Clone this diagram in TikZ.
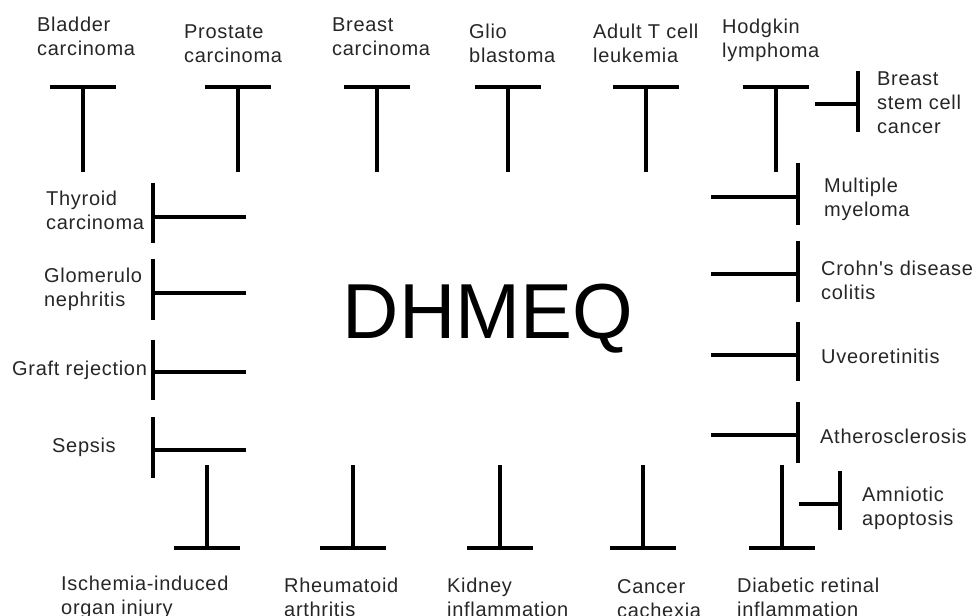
\documentclass[tikz,border=0pt]{standalone}
\usepackage{fontspec}
\setmainfont{Liberation Sans}
\newfontfamily\lblfont[LetterSpace=3.5]{Liberation Sans}
\definecolor{txt}{HTML}{262626}
\begin{document}
\begin{tikzpicture}[x=1pt,y=-1pt,
  lbl/.style={font=\lblfont\fontsize{20}{24}\selectfont, align=left, inner sep=0pt, anchor=base west, text=txt},
  bar/.style={line width=3.6pt, black}]
\useasboundingbox (0,0) rectangle (978,616);
\node[font=\fontsize{78}{78}\selectfont, inner sep=0pt, anchor=base, text=black] (dhmeq) at (488,338) {DHMEQ};

% top labels (anchor = baseline of last line)
\node[lbl] (bladder) at (37,55) {Bladder\\carcinoma};
\node[lbl] (prostate) at (184,62) {Prostate\\carcinoma};
\node[lbl] (breast) at (332,55) {Breast\\carcinoma};
\node[lbl] (glio) at (469,62) {Glio\\blastoma};
\node[lbl] (adult) at (593,62) {Adult T cell\\leukemia};
\node[lbl] (hodgkin) at (722,57) {Hodgkin\\lymphoma};
\node[lbl] (bscc) at (877,133) {Breast\\stem cell\\cancer};

% left labels
\node[lbl] (thyroid) at (46,229) {Thyroid\\carcinoma};
\node[lbl] (glom) at (44,306) {Glomerulo\\nephritis};
\node[lbl] (graft) at (12,375) {Graft rejection};
\node[lbl] (sepsis) at (52,452) {Sepsis};

% right labels
\node[lbl] (mm) at (824,216) {Multiple\\myeloma};
\node[lbl] (crohn) at (821,299) {Crohn's disease\\colitis};
\node[lbl] (uveo) at (821,363) {Uveoretinitis};
\node[lbl] (athero) at (820,443) {Atherosclerosis};
\node[lbl] (amnio) at (862,525) {Amniotic\\apoptosis};

% bottom labels
\node[lbl] (isch) at (61,614) {Ischemia-induced\\organ injury};
\node[lbl] (rheum) at (284,616) {Rheumatoid\\arthritis};
\node[lbl] (kidney) at (447,616) {Kidney\\inflammation};
\node[lbl] (cachexia) at (617,617) {Cancer\\cachexia};
\node[lbl] (diab) at (737,616) {Diabetic retinal\\inflammation};

% top T bars
\foreach \n/\x in {t1/83,t2/238,t3/377,t4/508,t5/646,t6/776}{
  \coordinate (\n a) at (\x,172);
  \coordinate (\n b) at (\x,87);
  \coordinate (\n l) at (\x-33,87);
  \coordinate (\n r) at (\x+33,87);
  \draw[bar] (\n a) -- (\n b);
  \draw[bar] (\n l) -- (\n r);
}
% breast stem cell
\coordinate (bs1) at (815,104); \coordinate (bs2) at (858,104);
\coordinate (bs3) at (858,71); \coordinate (bs4) at (858,132);
\draw[bar] (bs1) -- (bs2); \draw[bar] (bs3) -- (bs4);

% left bars
\foreach \n/\y/\t/\b in {l1/217/183/243, l2/293/259/320, l3/372/340/400, l4/450/417/478}{
  \coordinate (\n a) at (246,\y);
  \coordinate (\n b) at (153,\y);
  \coordinate (\n t) at (153,\t);
  \coordinate (\n u) at (153,\b);
  \draw[bar] (\n a) -- (\n b);
  \draw[bar] (\n t) -- (\n u);
}

% right bars
\foreach \n/\y/\t/\b in {r1/197/163/225, r2/274/241/302, r3/355/322/381, r4/435/402/463}{
  \coordinate (\n a) at (711,\y);
  \coordinate (\n b) at (798,\y);
  \coordinate (\n t) at (798,\t);
  \coordinate (\n u) at (798,\b);
  \draw[bar] (\n a) -- (\n b);
  \draw[bar] (\n t) -- (\n u);
}
% amniotic
\coordinate (am1) at (799,504); \coordinate (am2) at (840,504);
\coordinate (am3) at (840,471); \coordinate (am4) at (840,530);
\draw[bar] (am1) -- (am2); \draw[bar] (am3) -- (am4);

% bottom inverted T bars
\foreach \n/\x in {b1/207,b2/353,b3/500,b4/643,b5/782}{
  \coordinate (\n a) at (\x,465);
  \coordinate (\n b) at (\x,548);
  \coordinate (\n l) at (\x-33,548);
  \coordinate (\n r) at (\x+33,548);
  \draw[bar] (\n a) -- (\n b);
  \draw[bar] (\n l) -- (\n r);
}
\end{tikzpicture}
\end{document}
